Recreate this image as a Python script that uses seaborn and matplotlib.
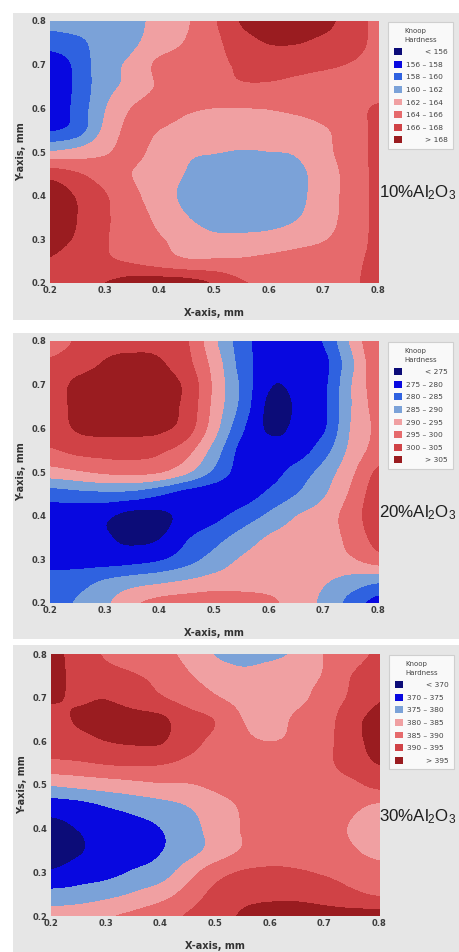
import numpy as np
import matplotlib
matplotlib.use("Agg")
import matplotlib.pyplot as plt
import seaborn as sns
from matplotlib.colors import ListedColormap, BoundaryNorm
from matplotlib.patches import Patch, Rectangle

# ---------------- data (grid) ----------------
x_mm = [0.20, 0.25, 0.30, 0.35, 0.40, 0.45, 0.50, 0.55, 0.60, 0.65, 0.70, 0.75, 0.80]
y_mm = [0.80, 0.75, 0.70, 0.65, 0.60, 0.55, 0.50, 0.45, 0.40, 0.35, 0.30, 0.25, 0.20]  # rows top -> bottom

hard_10 = [
    [160.5, 161.0, 161.0, 161.5, 162.6, 163.8, 165.8, 168.2, 168.8, 169.0, 168.6, 167.0, 165.5],
    [159.0, 159.5, 161.0, 161.7, 163.0, 164.2, 165.5, 167.2, 168.1, 168.1, 167.5, 166.8, 165.5],
    [156.5, 158.6, 161.3, 162.4, 164.5, 165.0, 165.5, 166.3, 166.5, 166.5, 166.3, 165.9, 165.3],
    [156.4, 158.5, 161.3, 162.6, 164.3, 165.0, 165.5, 165.8, 165.8, 165.6, 165.3, 165.2, 165.3],
    [156.5, 158.7, 161.9, 164.1, 165.0, 164.3, 164.0, 164.0, 164.1, 164.5, 165.0, 165.5, 166.2],
    [157.8, 159.0, 162.5, 164.6, 164.0, 163.2, 163.0, 162.8, 162.9, 162.9, 163.8, 165.0, 166.5],
    [162.2, 162.8, 163.8, 164.5, 163.3, 162.3, 162.1, 161.9, 162.0, 162.2, 163.5, 165.0, 166.5],
    [167.2, 166.2, 165.0, 164.0, 163.0, 161.9, 161.0, 160.8, 161.0, 161.5, 163.0, 164.8, 166.5],
    [169.3, 167.8, 166.2, 164.5, 163.0, 161.5, 160.8, 160.6, 160.8, 161.5, 163.0, 164.8, 166.5],
    [169.5, 168.0, 166.3, 165.0, 163.5, 162.1, 161.2, 161.0, 161.2, 161.9, 163.2, 164.8, 166.5],
    [169.0, 167.7, 166.2, 165.2, 164.2, 163.2, 162.5, 162.5, 162.7, 163.2, 163.9, 165.0, 166.5],
    [167.8, 166.8, 166.3, 165.8, 165.0, 164.3, 164.3, 164.3, 164.6, 165.0, 165.3, 165.6, 166.5],
    [167.0, 167.3, 168.0, 168.8, 169.0, 168.8, 167.8, 166.2, 165.7, 165.5, 165.5, 165.8, 166.5],
]

hard_20 = [
    [298.5, 300.5, 303.5, 304.0, 303.5, 300.5, 291.0, 282.5, 277.0, 277.0, 280.5, 291.0, 300.0],
    [300.5, 302.5, 305.3, 306.0, 305.5, 301.5, 293.0, 283.0, 277.0, 276.5, 278.5, 289.0, 299.0],
    [302.0, 306.3, 307.5, 307.5, 307.0, 303.8, 294.0, 284.0, 275.5, 276.0, 279.0, 290.0, 298.0],
    [302.5, 306.3, 307.5, 307.8, 307.0, 303.5, 293.5, 283.5, 274.0, 275.5, 279.0, 290.0, 297.0],
    [302.0, 305.6, 306.5, 306.5, 306.0, 302.5, 292.0, 281.0, 274.3, 276.0, 279.5, 290.5, 296.0],
    [299.5, 301.5, 302.0, 302.0, 301.0, 297.0, 288.0, 278.5, 277.0, 277.5, 283.0, 291.5, 297.0],
    [293.0, 294.5, 296.0, 296.5, 295.5, 291.0, 284.0, 278.0, 278.0, 282.0, 287.0, 294.0, 301.0],
    [282.5, 283.5, 284.0, 283.5, 281.0, 278.0, 277.0, 277.5, 281.0, 285.0, 289.5, 296.0, 303.0],
    [277.5, 277.0, 276.0, 273.5, 274.0, 276.5, 278.5, 282.0, 286.0, 290.0, 292.5, 297.5, 303.5],
    [277.0, 276.5, 275.5, 274.0, 274.8, 279.5, 283.0, 287.0, 290.5, 292.0, 293.0, 296.5, 302.0],
    [278.0, 277.8, 277.5, 278.0, 279.5, 283.0, 287.0, 290.5, 292.0, 292.5, 293.0, 294.5, 298.0],
    [282.0, 283.0, 285.5, 287.5, 289.0, 290.5, 292.0, 292.5, 292.0, 291.5, 290.5, 288.0, 286.0],
    [283.0, 285.5, 289.0, 294.0, 296.5, 297.5, 298.0, 297.5, 296.5, 292.0, 289.0, 283.0, 278.0],
]

hard_30 = [
    [396.5, 393.0, 389.5, 387.5, 386.0, 384.0, 379.8, 378.6, 379.0, 381.0, 385.2, 388.0, 391.0],
    [396.0, 394.0, 392.0, 390.5, 388.5, 385.5, 383.0, 381.2, 382.5, 383.5, 385.5, 390.2, 393.0],
    [395.5, 394.5, 394.8, 393.0, 390.5, 388.0, 385.5, 383.5, 383.2, 384.0, 387.0, 391.0, 394.6],
    [393.5, 395.5, 396.5, 396.5, 396.0, 392.0, 389.8, 385.0, 383.5, 385.8, 388.0, 393.5, 396.5],
    [392.5, 393.5, 395.0, 395.6, 395.5, 391.5, 389.0, 386.0, 385.0, 386.0, 388.5, 393.5, 396.5],
    [389.0, 389.5, 390.5, 391.0, 390.5, 389.0, 388.0, 387.5, 387.5, 388.0, 389.0, 392.5, 395.3],
    [380.5, 381.5, 382.5, 383.5, 384.5, 384.7, 386.0, 387.0, 387.5, 387.8, 388.0, 389.0, 391.5],
    [372.0, 373.0, 375.0, 376.5, 378.0, 380.0, 383.0, 385.5, 387.0, 387.5, 387.5, 386.0, 384.0],
    [368.8, 370.2, 372.5, 373.5, 375.0, 378.0, 382.0, 385.3, 387.0, 387.5, 387.0, 384.5, 382.0],
    [367.5, 369.5, 372.0, 373.0, 374.8, 378.0, 382.0, 385.5, 387.5, 388.0, 387.5, 385.5, 383.5],
    [370.6, 372.5, 373.5, 375.5, 377.5, 383.0, 388.0, 390.5, 391.0, 390.5, 389.5, 388.0, 387.0],
    [376.5, 377.0, 378.5, 380.5, 383.0, 387.0, 391.5, 393.5, 394.0, 394.0, 393.0, 391.0, 389.5],
    [382.0, 383.0, 384.5, 386.0, 388.0, 390.5, 393.0, 395.5, 396.5, 396.5, 396.5, 396.8, 397.0],
]

levels_10 = [156, 158, 160, 162, 164, 166, 168]
levels_20 = [275, 280, 285, 290, 295, 300, 305]
levels_30 = [370, 375, 380, 385, 390, 395]

labels_10 = ["< 156", "156 – 158", "158 – 160", "160 – 162", "162 – 164", "164 – 166", "166 – 168", "> 168"]
labels_20 = ["< 275", "275 – 280", "280 – 285", "285 – 290", "290 – 295", "295 – 300", "300 – 305", "> 305"]
labels_30 = ["< 370", "370 – 375", "375 – 380", "380 – 385", "385 – 390", "390 – 395", "> 395"]

panel_names = ["10%Al$\\mathregular{_2}$O$\\mathregular{_3}$",
               "20%Al$\\mathregular{_2}$O$\\mathregular{_3}$",
               "30%Al$\\mathregular{_2}$O$\\mathregular{_3}$"]

tick_values = [0.2, 0.3, 0.4, 0.5, 0.6, 0.7, 0.8]
tick_labels = ["0.2", "0.3", "0.4", "0.5", "0.6", "0.7", "0.8"]

# ---------------- style ----------------
sns.set_theme(style="white")
plt.rcParams["font.family"] = ["DejaVu Sans"]
plt.rcParams["mathtext.fontset"] = "custom"
plt.rcParams["mathtext.rm"] = "Liberation Sans"

col_navy = "#0c0c78"
col_blue = "#0808e0"
col_mblue = "#2f62e0"
col_lblue = "#7ba2d8"
col_pink = "#f0a0a2"
col_salmon = "#e66a6c"
col_red = "#d04246"
col_dred = "#9a1c20"
colors_8 = [col_navy, col_blue, col_mblue, col_lblue, col_pink, col_salmon, col_red, col_dred]
colors_7 = [col_navy, col_blue, col_lblue, col_pink, col_salmon, col_red, col_dred]

W, H = 459, 952
fig = plt.figure(figsize=(W / 100, H / 100), dpi=100)
fig.patch.set_facecolor("white")

def fx(px):
    return px / W

def fy(py):
    return 1 - py / H

panels = [
    dict(z=hard_10, lev=levels_10, lab=labels_10, cols=colors_8, name=panel_names[0],
         bg=(13, 13, 459, 320), ax=(50, 21, 378, 283), leg=(388, 22), txt=(379, 193)),
    dict(z=hard_20, lev=levels_20, lab=labels_20, cols=colors_8, name=panel_names[1],
         bg=(13, 333, 459, 639), ax=(50, 341, 378, 603), leg=(388, 342), txt=(379, 513)),
    dict(z=hard_30, lev=levels_30, lab=labels_30, cols=colors_7, name=panel_names[2],
         bg=(13, 645, 459, 952), ax=(51, 654, 379, 916), leg=(389, 655), txt=(379, 817)),
]

dx = 0.025
for p in panels:
    l, t, r, b = p["bg"]
    fig.patches.append(Rectangle((fx(l), fy(b)), (r - l) / W, (b - t) / H,
                                 transform=fig.transFigure, facecolor="#e6e6e6",
                                 edgecolor="none", zorder=-5))
    l, t, r, b = p["ax"]
    ax = fig.add_axes([fx(l), fy(b), (r - l) / W, (b - t) / H])
    ax.set_zorder(2)
    z = np.array(p["z"], dtype=float)
    bounds = [z.min() - 50] + list(p["lev"]) + [z.max() + 50]
    cmap = ListedColormap(p["cols"])
    norm = BoundaryNorm(bounds, cmap.N)
    ax.imshow(z, cmap=cmap, norm=norm, origin="upper", aspect="auto",
              interpolation="catrom", interpolation_stage="data",
              extent=[x_mm[0] - dx, x_mm[-1] + dx, y_mm[-1] - dx, y_mm[0] + dx])
    ax.set_xlim(0.2, 0.8)
    ax.set_ylim(0.2, 0.8)
    ax.set_xticks(tick_values)
    ax.set_xticklabels(tick_labels)
    ax.set_yticks(tick_values)
    ax.set_yticklabels(tick_labels)
    ax.tick_params(length=0, pad=2.5, labelsize=6, labelcolor="#3c3c3c")
    for lbl in ax.get_xticklabels() + ax.get_yticklabels():
        lbl.set_fontweight("bold")
    for s in ax.spines.values():
        s.set_visible(False)
    ax.set_xlabel("X-axis, mm", fontsize=7, fontweight="bold", color="#333333")
    ax.set_ylabel("Y-axis, mm", fontsize=7, fontweight="bold", color="#333333")
    ax.xaxis.set_label_coords(0.5, -0.095)
    ax.yaxis.set_label_coords(-0.072, 0.5)

    handles = [Patch(facecolor=c, edgecolor="none") for c in p["cols"]]
    labs = [("\u2007\u2007\u2007\u2007" + s) if s[0] in "<>" else s for s in p["lab"]]
    lx, ly = p["leg"]
    leg = fig.legend(handles, labs, title="Knoop\nHardness", loc="upper left",
                     bbox_to_anchor=(fx(lx), fy(ly)), bbox_transform=fig.transFigure,
                     fontsize=5.4, title_fontsize=5.0, frameon=True, fancybox=False,
                     handlelength=1.05, handleheight=1.05, handletextpad=0.55,
                     labelspacing=0.74, borderpad=0.75, borderaxespad=0)
    leg.get_frame().set_edgecolor("#c8c8c8")
    leg.get_frame().set_linewidth(0.8)
    leg.set_zorder(3)
    for tt in leg.get_texts():
        tt.set_color("#444444")
    leg.get_title().set_color("#444444")
    leg.get_title().set_linespacing(1.6)

    tx, ty = p["txt"]
    fig.text(fx(tx), fy(ty), p["name"], fontsize=12.2, family="Liberation Sans",
             color="#1e1e1e", ha="left", va="center", zorder=3)

fig.savefig("out.png", dpi=100)
